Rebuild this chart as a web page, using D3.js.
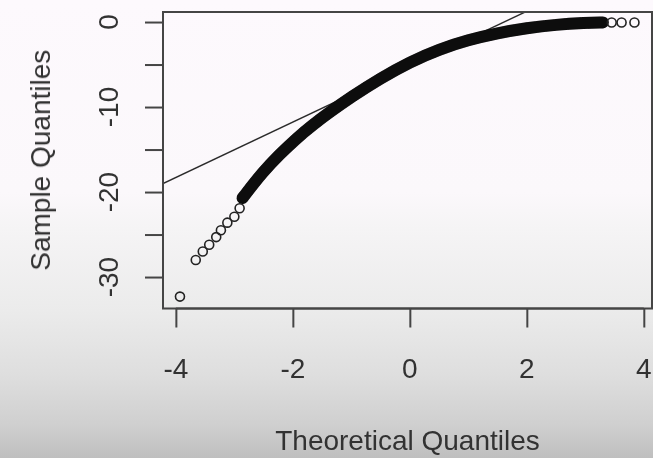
<!DOCTYPE html>
<html>
<head>
<meta charset="utf-8">
<script src="https://cdn.jsdelivr.net/npm/d3@7"></script>
<style>
  html, body { margin: 0; padding: 0; background: #fff; }
  svg { display: block; }
  text { font-family: "Liberation Sans", Arial, sans-serif; fill: #333; }
</style>
</head>
<body>
<div class="chart"></div>
<script>
// values (theoretical quantile, sample quantile)
var lowTailX  = [-3.93, -3.66, -3.54, -3.43, -3.31, -3.23, -3.12, -3.00, -2.91];
var lowTailY  = [-32.3, -28.0, -27.0, -26.2, -25.3, -24.5, -23.6, -22.9, -21.9];
// centre of the solid run of overlapping points
var bandX = [-2.86, -2.51, -2.23, -1.94, -1.66, -1.37, -1.0, -0.5, 0.0, 0.5, 1.0, 1.5, 2.0, 2.5, 3.0, 3.3];
var bandY = [-20.7, -17.6, -15.6, -13.7, -12.1, -10.6, -8.8, -6.6, -4.7, -3.2, -2.1, -1.3, -0.7, -0.3, -0.1, -0.05];
var highTailX = [3.45, 3.62, 3.84];
var highTailY = [-0.05, -0.05, -0.05];
// qqline: intercept + slope * x
var qqIntercept = -5.25, qqSlope = 3.26;

var xTicks = [-4, -2, 0, 2, 4];
var yTicks = [0, -5, -10, -15, -20, -25, -30];
var yTickLabels = [0, -10, -20, -30];

var W = 653, H = 458;
var box = {left: 163, right: 652, top: 12, bottom: 308.5};

var x = d3.scaleLinear().domain([-4.22, 4.14]).range([box.left, box.right]);
var y = d3.scaleLinear().domain([1.18, -33.7]).range([box.top, box.bottom]);

var svg = d3.select('.chart').append('svg')
    .attr('width', W)
    .attr('height', H);

var defs = svg.append('defs');
var grad = defs.append('linearGradient')
    .attr('id', 'bg').attr('x1', 0).attr('y1', 0).attr('x2', 0).attr('y2', 1);
[[0, '#fdf9fd'], [0.42, '#fbf8fb'], [0.5, '#f5f4f5'], [0.68, '#ebebeb'], [0.82, '#dedede'], [0.93, '#cfcfcf'], [1, '#bfbfbf']]
    .forEach(function(s) {
        grad.append('stop').attr('offset', s[0]).attr('stop-color', s[1]);
    });
defs.append('filter').attr('id', 'soft')
    .append('feGaussianBlur').attr('stdDeviation', 0.7);
defs.append('clipPath').attr('id', 'plotclip')
    .append('rect')
    .attr('x', box.left).attr('y', box.top)
    .attr('width', box.right - box.left).attr('height', box.bottom - box.top);

svg.append('rect').attr('width', W).attr('height', H).attr('fill', 'url(#bg)');

var g = svg.append('g').attr('filter', 'url(#soft)');

// qq reference line
var xl = x.domain();
g.append('line')
    .attr('clip-path', 'url(#plotclip)')
    .attr('x1', x(xl[0])).attr('y1', y(qqIntercept + qqSlope * xl[0]))
    .attr('x2', x(xl[1])).attr('y2', y(qqIntercept + qqSlope * xl[1]))
    .attr('stroke', '#2a2a2a')
    .attr('stroke-width', 1.4);

// dense part of the points
var band = d3.range(bandX.length).map(function(i) { return {x: bandX[i], y: bandY[i]}; });
var line = d3.line()
    .x(function(d) { return x(d.x); })
    .y(function(d) { return y(d.y); })
    .curve(d3.curveBasis);
g.append('path')
    .attr('d', line(band))
    .attr('fill', 'none')
    .attr('stroke', '#080808')
    .attr('stroke-width', 12)
    .attr('stroke-linecap', 'round');

// sparse tail points as open circles
var tails = d3.range(lowTailX.length).map(function(i) { return {x: lowTailX[i], y: lowTailY[i]}; })
    .concat(d3.range(highTailX.length).map(function(i) { return {x: highTailX[i], y: highTailY[i]}; }));
g.selectAll('circle.pt')
    .data(tails)
    .enter().append('circle')
    .attr('class', 'pt')
    .attr('cx', function(d) { return x(d.x); })
    .attr('cy', function(d) { return y(d.y); })
    .attr('r', 4.5)
    .attr('fill', 'none')
    .attr('stroke', '#222')
    .attr('stroke-width', 1.6);

// box
g.append('rect')
    .attr('x', box.left).attr('y', box.top)
    .attr('width', box.right - box.left).attr('height', box.bottom - box.top)
    .attr('fill', 'none')
    .attr('stroke', '#444')
    .attr('stroke-width', 2);

// bottom axis
var xAxis = d3.axisBottom(x).tickValues(xTicks).tickSize(19).tickPadding(0).tickFormat(function() { return ''; });
var xa = g.append('g').attr('transform', 'translate(0,' + box.bottom + ')').call(xAxis);
xa.select('.domain').attr('d', 'M' + x(xTicks[0]) + ',0H' + x(xTicks[xTicks.length - 1]))
    .attr('stroke', '#444').attr('stroke-width', 2);
xa.selectAll('.tick line').attr('stroke', '#444').attr('stroke-width', 2);

g.selectAll('text.xt')
    .data(xTicks)
    .enter().append('text')
    .attr('class', 'xt')
    .attr('x', function(d) { return x(d); })
    .attr('y', 378)
    .attr('text-anchor', 'middle')
    .style('font-size', '28px')
    .text(function(d) { return d; });

// left axis
var yAxis = d3.axisLeft(y).tickValues(yTicks).tickSize(18).tickFormat(function() { return ''; });
var ya = g.append('g').attr('transform', 'translate(' + box.left + ',0)').call(yAxis);
ya.select('.domain').attr('d', 'M0,' + y(yTicks[0]) + 'V' + y(yTicks[yTicks.length - 1]))
    .attr('stroke', '#444').attr('stroke-width', 2);
ya.selectAll('.tick line').attr('stroke', '#444').attr('stroke-width', 2);

g.selectAll('text.yt')
    .data(yTickLabels)
    .enter().append('text')
    .attr('class', 'yt')
    .attr('transform', function(d) { return 'translate(118,' + y(d) + ') rotate(-90)'; })
    .attr('text-anchor', 'middle')
    .style('font-size', '28px')
    .text(function(d) { return d; });

// axis titles
g.append('text')
    .attr('x', (box.left + box.right) / 2)
    .attr('y', 450)
    .attr('text-anchor', 'middle')
    .style('font-size', '28px')
    .text('Theoretical Quantiles');

g.append('text')
    .attr('transform', 'translate(50,' + (box.top + box.bottom) / 2 + ') rotate(-90)')
    .attr('text-anchor', 'middle')
    .style('font-size', '28px')
    .text('Sample Quantiles');
</script>
</body>
</html>
